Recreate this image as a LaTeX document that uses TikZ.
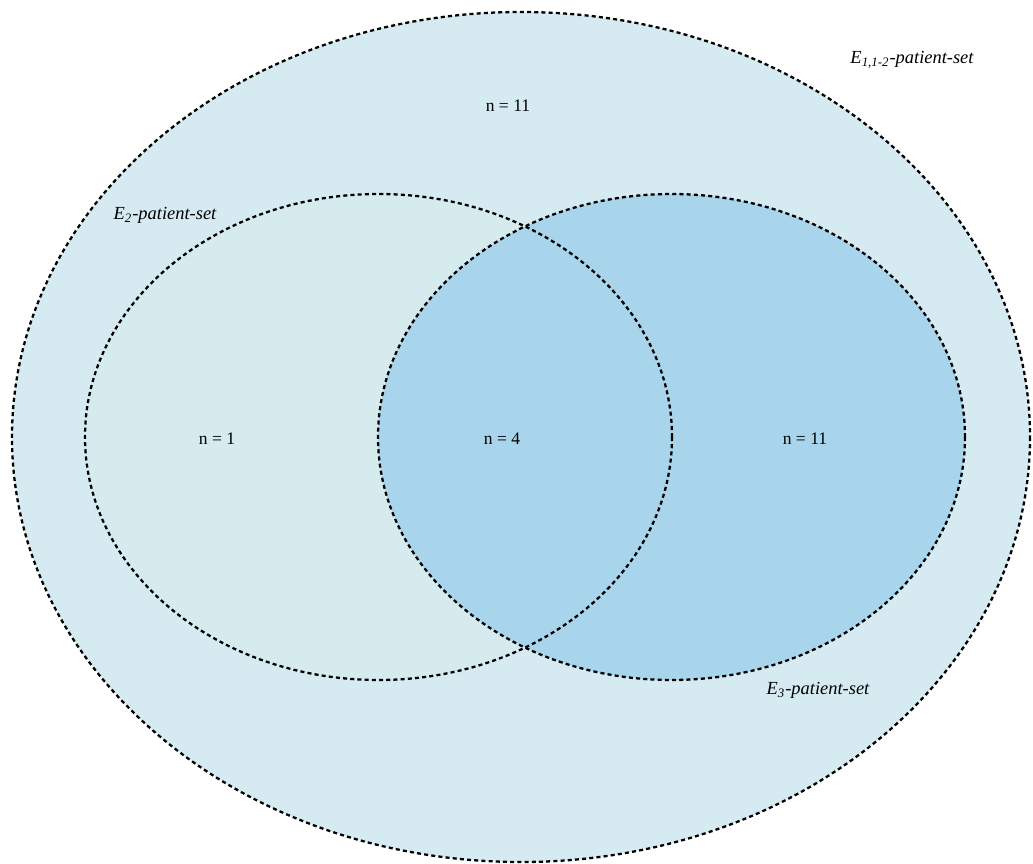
\documentclass[tikz,border=0pt]{standalone}
\usepackage{fontspec}
\setmainfont{Liberation Serif}
\definecolor{outerfill}{HTML}{D5EBF1}
\definecolor{leftfill}{HTML}{D6EBEE}
\definecolor{rightfill}{HTML}{A9D5EC}
\begin{document}
\begin{tikzpicture}[x=0.02cm,y=-0.02cm,
  setline/.style={line width=1.3pt,dash pattern=on 2.3pt off 1.8pt},
  lbl/.style={font=\fontsize{10.5}{12}\selectfont\itshape,inner sep=0pt},
  cnt/.style={font=\fontsize{10}{12}\selectfont,inner sep=0pt}]
\useasboundingbox (0,0) rectangle (1033,864);
\fill[outerfill] (521,437) ellipse [x radius=509, y radius=425];
\fill[leftfill] (378.5,437) ellipse [x radius=293.5, y radius=243];
\fill[rightfill] (671.5,437) ellipse [x radius=293.5, y radius=243];
\draw[setline] (521,437) ellipse [x radius=509, y radius=425];
\draw[setline] (378.5,437) ellipse [x radius=293.5, y radius=243];
\draw[setline] (671.5,437) ellipse [x radius=293.5, y radius=243];
\node[lbl] (l1) at (912,60) {E\textsubscript{1,1-2}-patient-set};
\node[lbl] (l2) at (165,215) {E\textsubscript{2}-patient-set};
\node[lbl] (l3) at (818,690) {E\textsubscript{3}-patient-set};
\node[cnt] (n1) at (508,106) {n = 11};
\node[cnt] (n2) at (217,439) {n = 1};
\node[cnt] (n3) at (502,439) {n = 4};
\node[cnt] (n4) at (805,439) {n = 11};
\end{tikzpicture}
\end{document}
